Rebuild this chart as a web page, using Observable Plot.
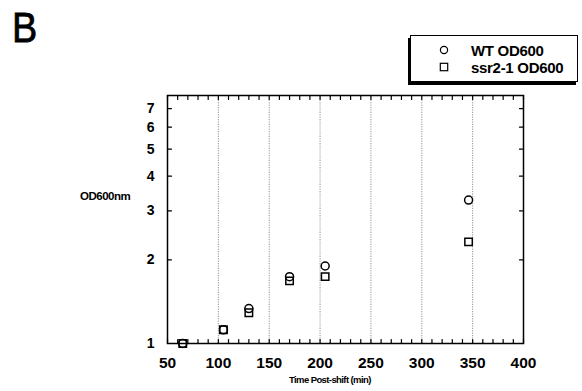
<!DOCTYPE html>
<html>
<head>
<meta charset="utf-8">
<script src="https://cdn.jsdelivr.net/npm/d3@7"></script>
<script src="https://cdn.jsdelivr.net/npm/@observablehq/plot@0.6"></script>
<style>
  html, body { margin: 0; padding: 0; background: #fff; }
  #wrap { position: relative; width: 582px; height: 391px; font-family: "Liberation Sans", Arial, sans-serif; }
  #wrap svg { position: absolute; left: 0; top: 0; }
  .panel { position: absolute; left: 12px; top: 7px; font-size: 42px; font-weight: normal; font-family: "Liberation Sans", Arial, sans-serif; color: #000; line-height: 1; transform: scaleX(0.9); transform-origin: left top; -webkit-text-stroke: 0.8px #000; }
  .ylab { position: absolute; left: 80px; top: 190px; font-size: 11.5px; font-weight: bold; letter-spacing: -0.5px; }
  .xlab { position: absolute; left: 289px; top: 374px; font-size: 9.5px; font-weight: bold; letter-spacing: -0.6px; }
  .legend { position: absolute; left: 410px; top: 35px; width: 166px; height: 45px; border: 1.5px solid #000; box-shadow: -2px 3px 0 #000; background: #fff; }
  .legend .row { position: absolute; left: 0; font-size: 15px; font-weight: bold; letter-spacing: -0.3px; line-height: 1; }
</style>
</head>
<body>
<div id="wrap"></div>
<script>
// Data
const times = [65, 105, 130, 170, 205, 346];
const wtOD600 = [1.0, 1.12, 1.335, 1.74, 1.90, 3.28];
const ssr2OD600 = [1.0, 1.12, 1.29, 1.68, 1.74, 2.32];
const seriesNames = ["WT OD600", "ssr2-1 OD600"];
const xMajorTicks = [50, 100, 150, 200, 250, 300, 350, 400];
const xMinorTicks = d3.range(50, 401, 10);
const xGridLines = [100, 150, 200, 250, 300, 350];
const yTicks = [1, 2, 3, 4, 5, 6, 7];

const wt = times.map((t, i) => ({time: t, od: wtOD600[i], series: seriesNames[0]}));
const ssr = times.map((t, i) => ({time: t, od: ssr2OD600[i], series: seriesNames[1]}));

const tickShape = {draw(context, l) { context.moveTo(0, 0); context.lineTo(0, -l); }};
const tickOpts = {length: 4, anchor: "start", shape: tickShape, stroke: "#000", strokeWidth: 1.2};

const chart = Plot.plot({
  width: 582,
  height: 391,
  marginLeft: 167,
  marginRight: 59,
  marginTop: 95,
  marginBottom: 48,
  style: {fontFamily: "'Liberation Sans', Arial, sans-serif", fontWeight: "bold", fontSize: "14px", color: "#000", background: "transparent"},
  x: {domain: [50, 400]},
  y: {type: "log", domain: [1, 7.8]},
  marks: [
    Plot.gridX(xGridLines, {stroke: "#777", strokeOpacity: 1, strokeWidth: 0.8, strokeDasharray: "1.2,1.2"}),
    // inward tick marks on all four sides
    Plot.vector(xMinorTicks, {x: d => d, frameAnchor: "bottom", rotate: 0, ...tickOpts}),
    Plot.vector(xMinorTicks, {x: d => d, frameAnchor: "top", rotate: 180, ...tickOpts}),
    Plot.vector(yTicks, {y: d => d, frameAnchor: "left", rotate: 90, ...tickOpts}),
    Plot.vector(yTicks, {y: d => d, frameAnchor: "right", rotate: -90, ...tickOpts}),
    Plot.axisX(xMajorTicks, {anchor: "bottom", tickSize: 0, tickPadding: 13, label: null, fontSize: 15.5, tickFormat: d => String(d)}),
    Plot.axisY(yTicks, {anchor: "left", tickSize: 0, tickPadding: 13, label: null, fontSize: 14, tickFormat: d => String(d)}),
    Plot.frame({stroke: "#000", strokeWidth: 1.5}),
    Plot.dot(ssr, {x: "time", y: "od", symbol: "square", r: 4.2, stroke: "#000", strokeWidth: 1.5, fill: "none"}),
    Plot.dot(wt, {x: "time", y: "od", symbol: "circle", r: 4, stroke: "#000", strokeWidth: 1.5, fill: "none"})
  ]
});

const wrap = document.getElementById("wrap");
wrap.appendChild(chart);

const B = document.createElement("div"); B.className = "panel"; B.textContent = "B"; wrap.appendChild(B);
const yl = document.createElement("div"); yl.className = "ylab"; yl.textContent = "OD600nm"; wrap.appendChild(yl);
const xl = document.createElement("div"); xl.className = "xlab"; xl.textContent = "Time Post-shift (min)"; wrap.appendChild(xl);

const legend = document.createElement("div"); legend.className = "legend";
seriesNames.forEach((name, i) => {
  const row = document.createElement("div");
  row.className = "row";
  row.style.top = (7 + i * 17) + "px";
  const s = document.createElementNS("http://www.w3.org/2000/svg", "svg");
  s.setAttribute("width", 12); s.setAttribute("height", 12);
  s.style.position = "absolute"; s.style.left = "27px"; s.style.top = "1px";
  const shape = document.createElementNS("http://www.w3.org/2000/svg", i === 0 ? "circle" : "rect");
  if (i === 0) { shape.setAttribute("cx", 6); shape.setAttribute("cy", 6); shape.setAttribute("r", 3.6); }
  else { shape.setAttribute("x", 2.3); shape.setAttribute("y", 2.3); shape.setAttribute("width", 7.4); shape.setAttribute("height", 7.4); }
  shape.setAttribute("fill", "none"); shape.setAttribute("stroke", "#000"); shape.setAttribute("stroke-width", 1.2);
  s.appendChild(shape);
  row.appendChild(s);
  const t = document.createElement("span");
  t.textContent = name;
  t.style.position = "absolute"; t.style.left = "60px"; t.style.whiteSpace = "nowrap";
  row.appendChild(t);
  legend.appendChild(row);
});
wrap.appendChild(legend);
</script>
</body>
</html>
